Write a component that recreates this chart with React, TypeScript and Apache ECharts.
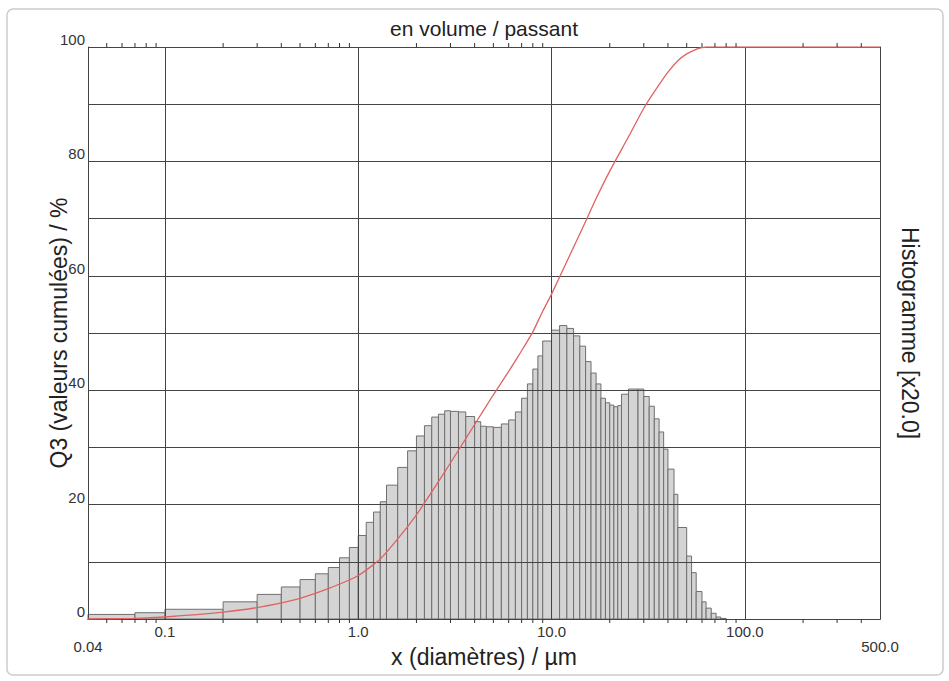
import React, { useEffect, useRef } from "react";
import * as echarts from "echarts";

// Histogram class edges (µm) and bar heights (histogram scaled x20, read on left axis)
const binEdges = [
  0.04, 0.07, 0.1, 0.2, 0.3, 0.4, 0.5, 0.6, 0.7, 0.8, 0.9, 1.0, 1.1, 1.2, 1.3, 1.4,
  1.6, 1.8, 2.0, 2.2, 2.4, 2.6, 2.8, 3.0, 3.3, 3.6, 4.0, 4.3, 4.6, 5.0, 5.5, 6.0,
  6.5, 7.0, 7.5, 8.0, 8.5, 9.0, 10, 11, 12, 13, 14, 15, 16, 17, 18, 19, 20, 21, 22,
  23, 25, 28, 30, 32, 34, 36, 38, 40, 43, 45, 50, 53, 56, 60, 63, 67, 71, 75, 80,
];
const binHeights = [
  0.8, 1.1, 1.7, 3.0, 4.3, 5.6, 6.9, 7.9, 9.0, 10.7, 12.5, 14.6, 16.9, 18.7, 20.5,
  23.4, 26.5, 29.4, 32.0, 33.8, 35.3, 35.8, 36.4, 36.3, 36.2, 35.4, 34.5, 33.7, 33.6,
  33.5, 34.1, 34.8, 36.2, 38.6, 41.1, 43.7, 46.0, 48.6, 50.5, 51.3, 50.8, 49.5, 47.7,
  45.0, 43.0, 41.1, 38.6, 37.8, 37.4, 37.1, 37.3, 39.3, 40.2, 40.2, 38.9, 37.2, 35.0,
  32.7, 29.7, 26.2, 21.8, 16.0, 11.0, 8.1, 4.8, 3.0, 1.9, 1.0, 0.35, 0.1,
];

// Cumulative passing curve Q3 (%)
const cumDiameters = [
  0.04, 0.07, 0.1, 0.2, 0.3, 0.4, 0.5, 0.7, 1.0, 1.3, 1.6, 2.0, 2.6, 3.3, 4.0, 5.0,
  6.0, 7.0, 8.0, 9.0, 10, 12, 15, 17, 20, 25, 30, 35, 40, 45, 50, 56, 60, 63, 80, 500,
];
const cumValues = [
  0, 0.1, 0.35, 1.2, 2.0, 2.8, 3.6, 5.3, 7.6, 10.5, 14.0, 18.2, 24.0, 29.5, 34.0, 39.2,
  43.3, 46.9, 50.2, 53.8, 56.8, 62.5, 69.5, 73.5, 78.3, 84.3, 89.3, 92.8, 95.6, 97.6,
  98.8, 99.6, 99.9, 100, 100, 100,
];

// Minor (log) tick values on top and bottom frame
const minorTicks = [
  0.05, 0.06, 0.07, 0.08, 0.09,
  0.2, 0.3, 0.4, 0.5, 0.6, 0.7, 0.8, 0.9,
  2, 3, 4, 5, 6, 7, 8, 9,
  20, 30, 40, 50, 60, 70, 80, 90,
  200, 300, 400,
];

const FONT = "Liberation Sans, Arial, Helvetica, sans-serif";
const LINE = "#444";

export default function App() {
  const ref = useRef<HTMLDivElement>(null);

  useEffect(() => {
    if (!ref.current) return;
    const chart = echarts.init(ref.current, undefined, { renderer: "svg" });

    const barData = binHeights.map((h, i) => [binEdges[i], binEdges[i + 1], h]);
    const tickData = minorTicks.map((v) => [v, 0]);
    const cumData = cumDiameters.map((d, i) => [d, cumValues[i]]);

    const xFormatter = (v: number) => {
      if (v < 0.05) return "\n0.04";
      if (v > 300) return "\n500.0";
      if (v < 0.5) return "0.1";
      return (Math.round(v * 10) / 10).toFixed(1);
    };

    chart.setOption({
      animation: false,
      textStyle: { fontFamily: FONT },
      graphic: [
        {
          type: "rect",
          shape: { x: 7, y: 9, width: 936, height: 666, r: 6 },
          style: { fill: "none", stroke: "#cccccc", lineWidth: 1.5 },
          silent: true,
        },
      ],
      grid: { left: 88, top: 47, width: 792, height: 572, containLabel: false },
      xAxis: [
        {
          type: "log",
          logBase: 10,
          min: 0.04,
          max: 500,
          position: "bottom",
          z: 3,
          axisLine: { show: true, lineStyle: { color: LINE, width: 1 } },
          axisTick: { show: false },
          splitLine: { show: true, lineStyle: { color: LINE, width: 1 } },
          minorTick: { show: false },
          axisLabel: {
            show: true,
            formatter: xFormatter,
            color: "#333",
            fontSize: 15,
            lineHeight: 15,
            margin: 5,
            showMinLabel: true,
            showMaxLabel: true,
            interval: 0,
          },
          name: "x (diamètres) / µm",
          nameLocation: "middle",
          nameGap: 26,
          nameMoveOverlap: false,
          nameTextStyle: { fontSize: 23, color: "#222" },
        },
        {
          type: "log",
          logBase: 10,
          min: 0.04,
          max: 500,
          position: "top",
          z: 3,
          axisLine: { show: true, lineStyle: { color: LINE, width: 1 } },
          axisTick: { show: false },
          splitLine: { show: false },
          axisLabel: { show: false },
          name: "en volume / passant",
          nameLocation: "middle",
          nameGap: 8,
          nameMoveOverlap: false,
          nameTextStyle: { fontSize: 21, color: "#222" },
        },
      ],
      yAxis: [
        {
          type: "value",
          min: 0,
          max: 100,
          interval: 10,
          position: "left",
          z: 3,
          axisLine: { show: true, lineStyle: { color: LINE, width: 1 } },
          axisTick: { show: false },
          splitLine: { show: true, lineStyle: { color: LINE, width: 1 } },
          axisLabel: {
            formatter: (v: number) => (v % 20 === 0 ? String(v) : ""),
            color: "#333",
            fontSize: 15,
            margin: 3,
            verticalAlign: "bottom",
          },
          name: "Q3 (valeurs cumulées) / %",
          nameLocation: "middle",
          nameRotate: 90,
          nameGap: 18,
          nameMoveOverlap: false,
          nameTextStyle: { fontSize: 23, color: "#222" },
        },
        {
          type: "value",
          min: 0,
          max: 100,
          interval: 10,
          position: "right",
          z: 3,
          axisLine: { show: true, lineStyle: { color: LINE, width: 1 } },
          axisTick: { show: false },
          splitLine: { show: false },
          axisLabel: { show: false },
          name: "Histogramme [x20.0]",
          nameLocation: "middle",
          nameRotate: -90,
          nameGap: 18,
          nameMoveOverlap: false,
          nameTextStyle: { fontSize: 23, color: "#222" },
        },
      ],
      series: [
        {
          type: "custom",
          name: "Histogramme",
          xAxisIndex: 0,
          yAxisIndex: 0,
          z: 2,
          encode: { x: [0, 1], y: 2 },
          data: barData,
          renderItem: (params: any, api: any) => {
            const p0 = api.coord([api.value(0), api.value(2)]);
            const p1 = api.coord([api.value(1), 0]);
            return {
              type: "rect",
              shape: { x: p0[0], y: p0[1], width: p1[0] - p0[0], height: p1[1] - p0[1] },
              style: { fill: "#d4d4d4", stroke: "#6f6f6f", lineWidth: 1 },
            };
          },
        },
        {
          type: "line",
          name: "Q3",
          xAxisIndex: 0,
          yAxisIndex: 0,
          z: 4,
          data: cumData,
          showSymbol: false,
          smooth: 0.2,
          lineStyle: { color: "#e06262", width: 1.3 },
        },
        {
          type: "custom",
          name: "ticks",
          xAxisIndex: 0,
          yAxisIndex: 0,
          z: 5,
          clip: false,
          encode: { x: 0, y: 1 },
          data: tickData,
          renderItem: (params: any, api: any) => {
            const v = api.value(0);
            const top = api.coord([v, 100]);
            const bot = api.coord([v, 0]);
            const st = { stroke: "#333", lineWidth: 1 };
            return {
              type: "group",
              children: [
                { type: "line", shape: { x1: top[0], y1: top[1], x2: top[0], y2: top[1] - 4 }, style: st },
                { type: "line", shape: { x1: bot[0], y1: bot[1], x2: bot[0], y2: bot[1] + 4 }, style: st },
              ],
            };
          },
        },
      ],
    });

    return () => chart.dispose();
  }, []);

  return (
    <div
      ref={ref}
      style={{ position: "absolute", left: 0, top: 0, width: 949, height: 681, background: "#fff" }}
    />
  );
}
